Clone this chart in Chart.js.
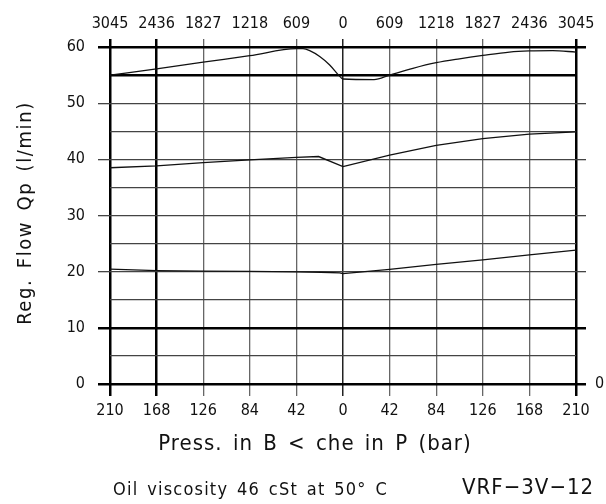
<!DOCTYPE html>
<html>
<head>
<meta charset="utf-8">
<script src="https://cdn.jsdelivr.net/npm/chart.js@4.4.1/dist/chart.umd.min.js"></script>
<style>
html,body{margin:0;padding:0;background:#fff;}
#wrap{position:relative;width:606px;height:504px;}
</style>
</head>
<body>
<div id="wrap"><canvas id="c"></canvas></div>
<script>
// ---- data ----
const pressureHigh = [-210, -168, -126, -84, -42, -36, -30, -21, -12, -4, 0, 28, 42, 63, 84, 105, 126, 150, 168, 189, 210];
const flowHigh     = [55.0, 56.1, 57.3, 58.45, 59.7, 59.7, 59.35, 58.3, 56.8, 55.0, 54.3, 54.2, 55.0, 56.2, 57.2, 57.9, 58.5, 59.1, 59.3, 59.35, 59.1];

const pressureMid  = [-210, -168, -126, -84, -42, -22, 0, 42, 84, 126, 168, 210];
const flowMid      = [38.5, 38.85, 39.4, 39.9, 40.35, 40.5, 38.7, 40.75, 42.5, 43.7, 44.5, 44.9];

const pressureLow  = [-210, -168, -126, -84, -42, -20, -3, 0, 42, 84, 126, 168, 210];
const flowLow      = [20.45, 20.2, 20.1, 20.05, 19.97, 19.9, 19.8, 19.65, 20.4, 21.3, 22.1, 23.0, 23.85];

const topTickLabels = ['3045', '2436', '1827', '1218', '609', '0', '609', '1218', '1827', '2436', '3045'];
const yTitle   = 'Reg. Flow Qp (l/min)';
const xTitle   = 'Press. in B < che in P (bar)';
const noteText = 'Oil viscosity 46 cSt at 50\u00b0 C';
const codeText = 'VRF\u22123V\u221212';

// ---- styling ----
const FONT = "'DejaVu Sans Condensed', 'Liberation Sans', sans-serif";
const thickY = [0, 10, 55, 60];
const thickX = [-210, -168, 210];

function yLineWidth(c){ return thickY.includes(c.tick.value) ? 2.5 : 1.3; }
function yLineColor(c){ return thickY.includes(c.tick.value) ? '#000' : '#444'; }
function yTickColor(c){ return c.tick.value % 10 === 0 ? yLineColor(c) : 'rgba(0,0,0,0)'; }
function xLineWidth(c){ const v = c.tick.value; return thickX.includes(v) ? 2.5 : (v === 0 ? 1.5 : 1.3); }
function xLineColor(c){ const v = c.tick.value; return thickX.includes(v) ? '#000' : (v === 0 ? '#222' : '#666'); }

function mk(px, fy){ return px.map((p, i) => ({x: p, y: fy[i]})); }
function lineDs(px, fy, smooth){
  const ds = { data: mk(px, fy), borderColor: '#111', borderWidth: 1.3, pointRadius: 0,
           fill: false, xAxisID: 'x', yAxisID: 'y', tension: 0 };
  if (smooth) ds.cubicInterpolationMode = 'monotone';
  return ds;
}

const textPlugin = {
  id: 'texts',
  afterDraw(chart){
    const ctx = chart.ctx;
    ctx.save();
    ctx.fillStyle = '#111';
    ctx.textBaseline = 'middle';
    // y title
    ctx.save();
    ctx.translate(26, 213);
    ctx.rotate(-Math.PI / 2);
    ctx.font = '20px ' + FONT;
    ctx.letterSpacing = '1.6px';
    ctx.wordSpacing = '3px';
    ctx.textAlign = 'center';
    ctx.fillText(yTitle, 0, 0);
    ctx.restore();
    // x title
    ctx.font = '22px ' + FONT;
    ctx.letterSpacing = '1px';
    ctx.wordSpacing = '3px';
    ctx.textAlign = 'center';
    ctx.fillText(xTitle, 315, 444);
    // footer note
    ctx.font = '18px ' + FONT;
    ctx.letterSpacing = '1.2px';
    ctx.wordSpacing = '2.5px';
    ctx.textAlign = 'left';
    ctx.fillText(noteText, 113, 490);
    // code
    ctx.font = '22px ' + FONT;
    ctx.letterSpacing = '1px';
    ctx.wordSpacing = '0px';
    ctx.fillText(codeText, 462, 488);
    ctx.restore();
  }
};

const tickFont = { family: FONT, size: 16 };

new Chart(document.getElementById('c'), {
  type: 'line',
  data: { datasets: [ lineDs(pressureHigh, flowHigh, true), lineDs(pressureMid, flowMid, false), lineDs(pressureLow, flowLow, false) ] },
  options: {
    responsive: true, maintainAspectRatio: false, animation: false,
    layout: { padding: 0 },
    plugins: { legend: { display: false }, tooltip: { enabled: false } },
    scales: {
      x: {
        type: 'linear', position: 'bottom', min: -210, max: 210,
        afterFit(s){ s.height = 120; },
        border: { display: false },
        grid: { lineWidth: xLineWidth, color: xLineColor, tickColor: xLineColor, tickWidth: xLineWidth, tickLength: 12 },
        ticks: { stepSize: 42, autoSkip: false, maxRotation: 0, padding: 5, color: '#111', font: tickFont,
                 callback: v => String(Math.abs(v)) }
      },
      xTop: {
        type: 'linear', position: 'top', min: -210, max: 210,
        afterFit(s){ s.height = 47; },
        border: { display: false },
        grid: { drawOnChartArea: false, lineWidth: xLineWidth, color: xLineColor, tickColor: xLineColor, tickWidth: xLineWidth, tickLength: 8 },
        ticks: { stepSize: 42, autoSkip: false, maxRotation: 0, padding: 6, color: '#111', font: tickFont,
                 callback: (v, i) => topTickLabels[i] }
      },
      y: {
        type: 'linear', position: 'left', min: 0, max: 60,
        afterFit(s){ s.width = 110; },
        border: { display: false },
        grid: { lineWidth: yLineWidth, color: yLineColor, tickColor: yTickColor, tickWidth: yLineWidth, tickLength: 12 },
        ticks: { stepSize: 5, autoSkip: false, padding: 13, color: '#111', font: tickFont,
                 callback: v => (v % 10 === 0 ? String(v) : '') }
      },
      yRight: {
        type: 'linear', position: 'right', min: 0, max: 60,
        afterFit(s){ s.width = 30; },
        border: { display: false },
        grid: { drawOnChartArea: false, lineWidth: yLineWidth, color: yLineColor, tickColor: yTickColor, tickWidth: yLineWidth, tickLength: 10 },
        ticks: { stepSize: 5, autoSkip: false, padding: 9, color: '#111', font: tickFont,
                 callback: v => (v === 0 ? '0' : '') }
      }
    }
  },
  plugins: [textPlugin]
});
</script>
</body>
</html>
